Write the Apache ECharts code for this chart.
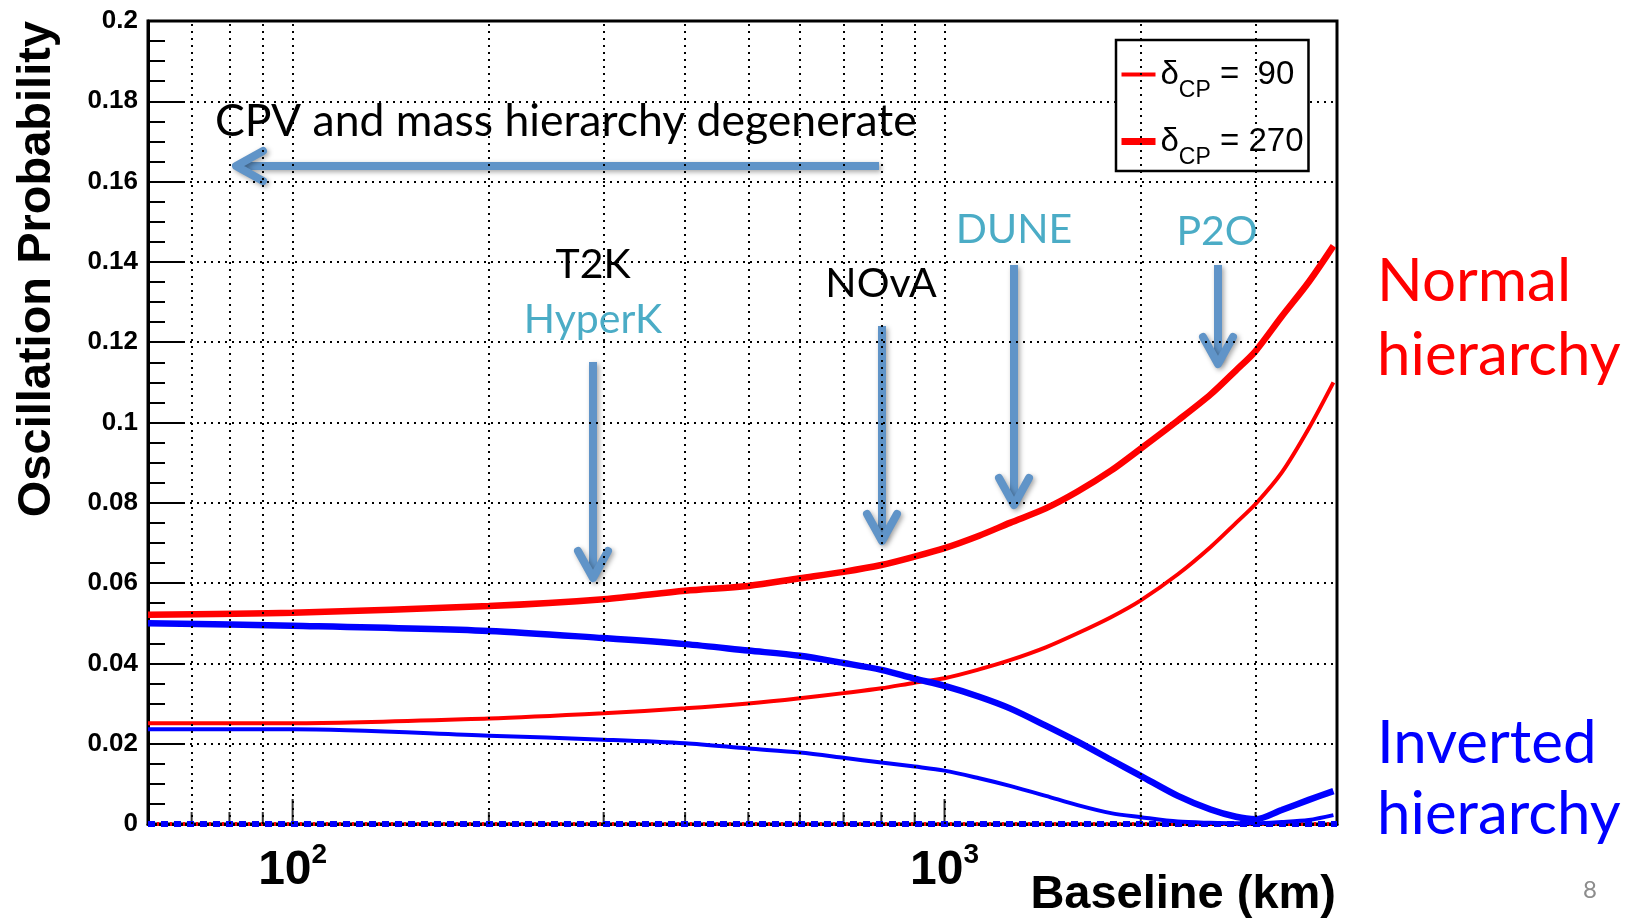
<!DOCTYPE html>
<html>
<head>
<meta charset="utf-8">
<title>Oscillation probability vs baseline</title>
<script src="https://cdn.jsdelivr.net/npm/echarts@6/dist/echarts.min.js"></script>
<style>
  html, body { margin: 0; padding: 0; background: #fff; }
  #chart { width: 1632px; height: 920px; }
</style>
</head>
<body>
<div id="chart"></div>
<script>
// baseline in km, probabilities
const baselineKm = [60, 100, 200, 300, 400, 500, 600, 700, 800, 900, 1000, 1130, 1260, 1430, 1600, 1800, 2000, 2280, 2560, 2800, 3000, 3290, 3620, 3950];
const nh90 = [0.0251, 0.0251, 0.0263, 0.0276, 0.0288, 0.0300, 0.0313, 0.0326, 0.0338, 0.0352, 0.0363, 0.0385, 0.0408, 0.0440, 0.0475, 0.0515, 0.0557, 0.0622, 0.0690, 0.0750, 0.0797, 0.0875, 0.0985, 0.1100];
const nh270 = [0.0521, 0.0526, 0.0543, 0.0560, 0.0581, 0.0593, 0.0612, 0.0628, 0.0645, 0.0666, 0.0687, 0.0718, 0.0750, 0.0786, 0.0828, 0.0880, 0.0935, 0.1005, 0.1070, 0.1130, 0.1178, 0.1264, 0.1350, 0.1440];
const ih90 = [0.0236, 0.0236, 0.0220, 0.0210, 0.0201, 0.0188, 0.0178, 0.0165, 0.0153, 0.0143, 0.0133, 0.0114, 0.0095, 0.0070, 0.0047, 0.0027, 0.0017, 0.0006, 0.0003, 0.0002, 0.0002, 0.0005, 0.0010, 0.0022];
const ih270 = [0.0500, 0.0494, 0.0481, 0.0463, 0.0448, 0.0432, 0.0419, 0.0401, 0.0384, 0.0362, 0.0344, 0.0317, 0.0288, 0.0245, 0.0205, 0.0160, 0.0120, 0.0070, 0.0036, 0.0018, 0.0012, 0.0035, 0.0060, 0.0082];
// the two dashed curves lying on zero
const zeroKm = [60, 4000];
const zeroProb = [0, 0];

// log-axis grid lines and ticks
const gridKm = [70, 80, 90, 100, 200, 300, 400, 500, 600, 700, 800, 900, 1000, 2000, 3000];
const majorTickKm = [100, 1000];
const minorTickKm = [70, 80, 90, 200, 300, 400, 500, 600, 700, 800, 900, 2000, 3000];
const probMin = 0, probMax = 0.2, probStep = 0.02;

const nh90Name = 'δCP = 90';
const nh270Name = 'δCP = 270';

const ROOT_FONT = '"Liberation Sans", Arial, sans-serif';
const SLIDE_FONT = 'Lato, "Open Sans", sans-serif';
const ARROW = '#6094C8';
const TEAL = '#4BACC6';

const pairs = (xs, ys) => xs.map((x, i) => [x, ys[i]]);

const arrowStyle = {
  stroke: ARROW, lineWidth: 8, fill: null,
  shadowBlur: 5, shadowOffsetX: 2, shadowOffsetY: 2, shadowColor: 'rgba(0,0,0,0.35)'
};

// annotation arrows (slide decoration, pixel space)
function arrowDown(x, y0, y1) {
  return [
    { type: 'polyline', shape: { points: [[x, y0], [x, y1 - 3]] }, style: Object.assign({ lineCap: 'butt' }, arrowStyle) },
    { type: 'polyline', shape: { points: [[x - 15, y1 - 27], [x, y1], [x + 15, y1 - 27]] }, style: Object.assign({ lineCap: 'round', lineJoin: 'round' }, arrowStyle) }
  ];
}
function arrowLeft(x0, x1, y) {
  return [
    { type: 'polyline', shape: { points: [[x0, y], [x1 + 3, y]] }, style: Object.assign({ lineCap: 'butt' }, arrowStyle) },
    { type: 'polyline', shape: { points: [[x1 + 27, y - 15], [x1, y], [x1 + 27, y + 15]] }, style: Object.assign({ lineCap: 'round', lineJoin: 'round' }, arrowStyle) }
  ];
}
function label(text, x, y, size, color, align) {
  return {
    type: 'text', x: x, y: y, z: 10,
    style: { text: text, font: size + 'px ' + SLIDE_FONT, fill: color, align: align || 'center', verticalAlign: 'middle' }
  };
}

const chart = echarts.init(document.getElementById('chart'));

const tickSeries = (name, data, len) => ({
  name: name, type: 'scatter', silent: true,
  data: data.map(v => [v, 0]),
  symbol: 'rect', symbolSize: [2, len], symbolOffset: [0, '-50%'],
  itemStyle: { color: '#000' }
});

const hiddenMarker = { color: 'rgba(0,0,0,0)', borderWidth: 0 };

chart.setOption({
  animation: false,
  backgroundColor: '#fff',
  grid: {
    left: 148, top: 21, right: 295, bottom: 96,
    show: true, borderColor: '#000', borderWidth: 3
  },
  xAxis: {
    type: 'log', logBase: 10, min: 60, max: 4000,
    axisLine: { show: true, onZero: false, lineStyle: { color: '#000', width: 3 } },
    axisTick: { show: false },
    minorTick: { show: false },
    splitLine: { show: false },
    axisLabel: {
      margin: 23,
      formatter: function (v) {
        const p = Math.log10(v);
        if (Math.abs(p - Math.round(p)) > 1e-6) return '';
        return '{b|10}{s|' + Math.round(p) + '}';
      },
      rich: {
        b: { fontFamily: ROOT_FONT, fontWeight: 'bold', fontSize: 48, lineHeight: 48, color: '#000' },
        s: { fontFamily: ROOT_FONT, fontWeight: 'bold', fontSize: 28, lineHeight: 24, padding: [0, 0, 32, 0], color: '#000' }
      }
    }
  },
  yAxis: {
    type: 'value', min: probMin, max: probMax, interval: probStep,
    axisLine: { show: true, lineStyle: { color: '#000', width: 3 } },
    axisTick: { show: true, inside: true, length: 36, lineStyle: { color: '#000', width: 2 } },
    minorTick: { show: true, splitNumber: 4, length: 17, lineStyle: { color: '#000', width: 2 } },
    axisLabel: { color: '#000', fontFamily: ROOT_FONT, fontWeight: 'bold', fontSize: 26, margin: 10 },
    splitLine: { show: true, lineStyle: { color: '#000', width: 2, type: [2, 5] } }
  },
  legend: {
    data: [
      { name: nh90Name, lineStyle: { width: 4 }, itemStyle: hiddenMarker },
      { name: nh270Name, lineStyle: { width: 7 }, itemStyle: hiddenMarker }
    ],
    orient: 'vertical', left: 1116, top: 40,
    itemWidth: 34, itemHeight: 14, itemGap: 23,
    padding: [18, 5, 2, 2],
    backgroundColor: '#fff', borderColor: '#000', borderWidth: 2.5,
    selectedMode: false,
    formatter: name => name === nh90Name ? '{d|δ}{s|CP}{e| =  90}' : '{d|δ}{s|CP}{e| = 270}',
    textStyle: {
      color: '#000',
      rich: {
        d: { fontFamily: ROOT_FONT, fontSize: 33, color: '#000' },
        s: { fontFamily: ROOT_FONT, fontSize: 23, padding: [32, 0, 0, 0], color: '#000' },
        e: { fontFamily: ROOT_FONT, fontSize: 33, color: '#000' }
      }
    }
  },
  series: [
    {
      name: 'zero NH', type: 'line', silent: true, symbol: 'none',
      data: pairs(zeroKm, zeroProb),
      lineStyle: { color: '#f00', width: 4, type: [2, 11], dashOffset: 4 },
      markLine: {
        silent: true, symbol: ['none', 'none'], label: { show: false },
        lineStyle: { color: '#000', width: 2, type: [2, 5] },
        data: gridKm.map(v => ({ xAxis: v }))
      }
    },
    {
      name: 'zero IH', type: 'line', silent: true, symbol: 'none',
      data: pairs(zeroKm, zeroProb),
      lineStyle: { color: '#00f', width: 6, type: [7, 6] }
    },
    {
      name: nh90Name, type: 'line', symbol: 'none', smooth: 0.3,
      data: pairs(baselineKm, nh90),
      itemStyle: { color: '#f00' }, lineStyle: { color: '#f00', width: 4 }
    },
    {
      name: nh270Name, type: 'line', symbol: 'none', smooth: 0.3,
      data: pairs(baselineKm, nh270),
      itemStyle: { color: '#f00' }, lineStyle: { color: '#f00', width: 6.5 }
    },
    {
      name: 'IH δCP = 90', type: 'line', symbol: 'none', smooth: 0.3,
      data: pairs(baselineKm, ih90),
      itemStyle: { color: '#00f' }, lineStyle: { color: '#00f', width: 4 }
    },
    {
      name: 'IH δCP = 270', type: 'line', symbol: 'none', smooth: 0.3,
      data: pairs(baselineKm, ih270),
      itemStyle: { color: '#00f' }, lineStyle: { color: '#00f', width: 6.5 }
    },
    tickSeries('minor ticks', minorTickKm, 12),
    tickSeries('major ticks', majorTickKm, 25)
  ],
  graphic: [
    {
      type: 'text', x: 37, y: 21, rotation: Math.PI / 2,
      style: { text: 'Oscillation Probability', font: 'bold 47px ' + ROOT_FONT, fill: '#000', align: 'right', verticalAlign: 'middle' }
    },
    {
      type: 'text', x: 1336, y: 895,
      style: { text: 'Baseline (km)', font: 'bold 47px ' + ROOT_FONT, fill: '#000', align: 'right', verticalAlign: 'middle' }
    },
    ...arrowLeft(879, 236, 166),
    ...arrowDown(593, 362, 578),
    ...arrowDown(882, 326, 541),
    ...arrowDown(1014, 265, 505),
    ...arrowDown(1218, 265, 364),
    label('CPV and mass hierarchy degenerate', 215, 122, 44.5, '#000', 'left'),
    label('T2K', 593, 265, 41, '#000'),
    label('HyperK', 593, 320, 41, TEAL),
    label('NOvA', 881, 284, 41, '#000'),
    label('DUNE', 1014, 230, 41, TEAL),
    label('P2O', 1217, 232, 41, TEAL),
    label('Normal', 1377, 282, 60, '#f00', 'left'),
    label('hierarchy', 1377, 356, 60, '#f00', 'left'),
    label('Inverted', 1377, 744, 60, '#00f', 'left'),
    label('hierarchy', 1377, 815, 60, '#00f', 'left'),
    label('8', 1590, 890, 24, '#8c8c8c')
  ]
});
</script>
</body>
</html>
